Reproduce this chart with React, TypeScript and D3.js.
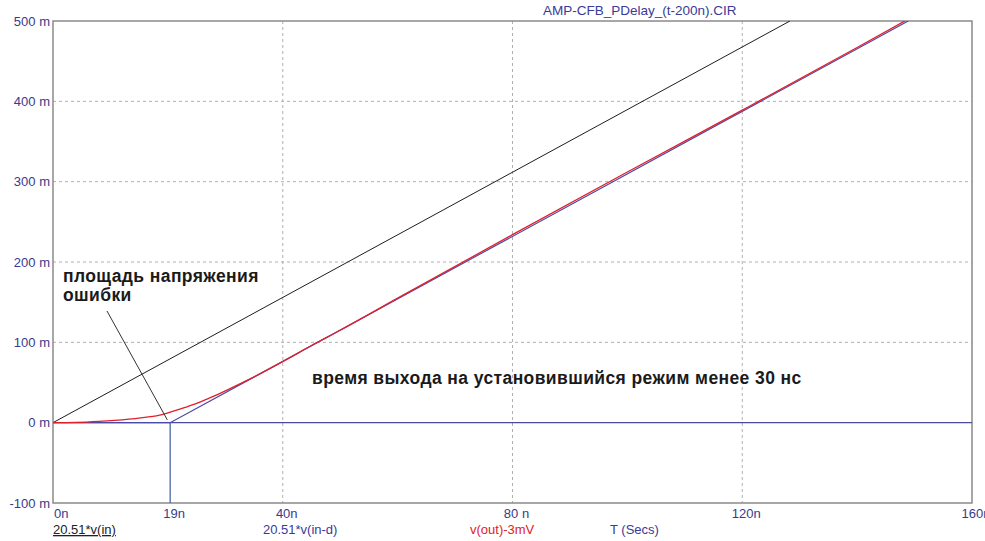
import React from "react";
import * as d3 from "d3";

const W = 985;
const H = 541;

// axis ticks (time in ns, voltage in mV)
const xTicks = [0, 40, 80, 120, 160];
const xTickLabels = ["0n", "40n", "80 n", "120n", "160n"];
const yTicks = [-100, 0, 100, 200, 300, 400, 500];
const yTickLabels = ["-100 m", "0 m", "100 m", "200 m", "300 m", "400 m", "500 m"];
const gridX = [40, 80, 120];
const gridY = [100, 200, 300, 400];

// 20.51*v(in)
const timeIn = [0, 128.3];
const valIn = [0, 500];

// 20.51*v(in-d)
const timeDelayed = [0, 20.4, 148.9];
const valDelayed = [0, 0, 500];

// zero line
const timeZero = [0, 160];
const valZero = [0, 0];

// v(out)-3mV
const timeOut = [0, 4, 8, 12, 16, 19, 20.4, 23, 25, 28, 31, 35, 40, 45, 50, 60, 80, 100, 120, 140, 148.3];
const valOut = [0, 0.3, 1.5, 3.5, 6.5, 10, 13, 19, 24, 33, 43, 57, 76, 96, 115, 155, 234, 312, 389, 467, 500];

// cursor
const cursorTime = 20.4;
const cursorLabel = "19n";

// annotation pointer (time ns, mV)
const pointerTime = [9.4, 19.9];
const pointerVal = [139, 3.5];

const title = "AMP-CFB_PDelay_(t-200n).CIR";
const noteArea = ["площадь напряжения", "ошибки"];
const noteTime = "время выхода на установившийся режим менее 30 нс";
const legend = [
  { text: "20.51*v(in)", color: "#222222", under: true },
  { text: "20.51*v(in-d)", color: "#3a3a9a", under: false },
  { text: "v(out)-3mV", color: "#e0202a", under: false },
  { text: "T (Secs)", color: "#3a3a9a", under: false },
];

const L = 53, R = 972, T = 21, B = 503;
const axisColor = "#3a3a8c";
const font = "'Liberation Sans', Arial, sans-serif";

export default function App() {
  const x = d3.scaleLinear().domain([0, 160]).range([L, R]);
  const y = d3.scaleLinear().domain([-100, 500]).range([B, T]);

  const mk = (ts: number[], vs: number[], curve = d3.curveLinear) =>
    d3
      .line<number>()
      .x((_, i) => x(ts[i]))
      .y((_, i) => y(vs[i]))
      .curve(curve)(ts.map((_, i) => i)) || "";

  const legendX = [53, 263, 470, 610];

  return (
    <div style={{ position: "fixed", left: 0, top: 0, width: W, height: H, background: "#fff" }}>
      <svg width={W} height={H} style={{ display: "block" }} fontFamily={font}>
        <defs>
          <clipPath id="plot">
            <rect x={L} y={T} width={R - L} height={B - T} />
          </clipPath>
        </defs>
        <rect x={0} y={0} width={W} height={H} fill="#fff" />

        {/* title */}
        <text x={543} y={15} fontSize={13.5} fill="#3a3a9a">
          {title}
        </text>

        {/* grid */}
        {gridX.map((g) => (
          <line key={"gx" + g} x1={x(g)} x2={x(g)} y1={T} y2={B} stroke="#b0b0b0" strokeDasharray="3,3" />
        ))}
        {gridY.map((g) => (
          <line key={"gy" + g} x1={L} x2={R} y1={y(g)} y2={y(g)} stroke="#b0b0b0" strokeDasharray="3,3" />
        ))}

        {/* frame */}
        <rect x={L} y={T} width={R - L} height={B - T} fill="none" stroke="#8a8a8a" strokeWidth={1.5} />

        {/* y labels */}
        {yTicks.map((v, i) => (
          <text key={"yl" + v} x={L - 3} y={y(v)} dy="0.35em" textAnchor="end" fontSize={13} fill={axisColor}>
            {yTickLabels[i]}
          </text>
        ))}

        {/* x labels */}
        {xTicks.map((v, i) => (
          <text
            key={"xl" + v}
            x={i === 0 ? x(v) + 1 : x(v) + 4}
            y={518}
            textAnchor={i === 0 ? "start" : "middle"}
            fontSize={13}
            fill={axisColor}
          >
            {xTickLabels[i]}
          </text>
        ))}
        <text x={x(cursorTime) + 4} y={518} textAnchor="middle" fontSize={13} fill={axisColor}>
          {cursorLabel}
        </text>

        {/* traces */}
        <g clipPath="url(#plot)" fill="none">
          <path d={mk(timeZero, valZero)} stroke="#4a4aa0" strokeWidth={1.4} />
          <line x1={x(cursorTime)} x2={x(cursorTime)} y1={y(0)} y2={B} stroke="#4a6aa0" strokeWidth={1.3} />
          <path d={mk(timeIn, valIn)} stroke="#1e1e1e" strokeWidth={1} />
          <path d={mk(timeDelayed, valDelayed)} stroke="#4a4aa8" strokeWidth={1.2} />
          <path d={mk(timeOut, valOut, d3.curveMonotoneX)} stroke="#e0202a" strokeWidth={1.3} />
          <path d={mk(pointerTime, pointerVal)} stroke="#333" strokeWidth={1} />
        </g>

        {/* annotations */}
        <g fontSize={17.5} fontWeight="bold" fill="#1a1a1a" letterSpacing={0.4}>
          <text x={63} y={282}>{noteArea[0]}</text>
          <text x={63} y={301}>{noteArea[1]}</text>
          <text x={312} y={384}>{noteTime}</text>
        </g>

        {/* legend */}
        {legend.map((l, i) => (
          <text
            key={"lg" + i}
            x={legendX[i]}
            y={534}
            fontSize={13}
            fill={l.color}
            textDecoration={l.under ? "underline" : undefined}
          >
            {l.text}
          </text>
        ))}
      </svg>
    </div>
  );
}
